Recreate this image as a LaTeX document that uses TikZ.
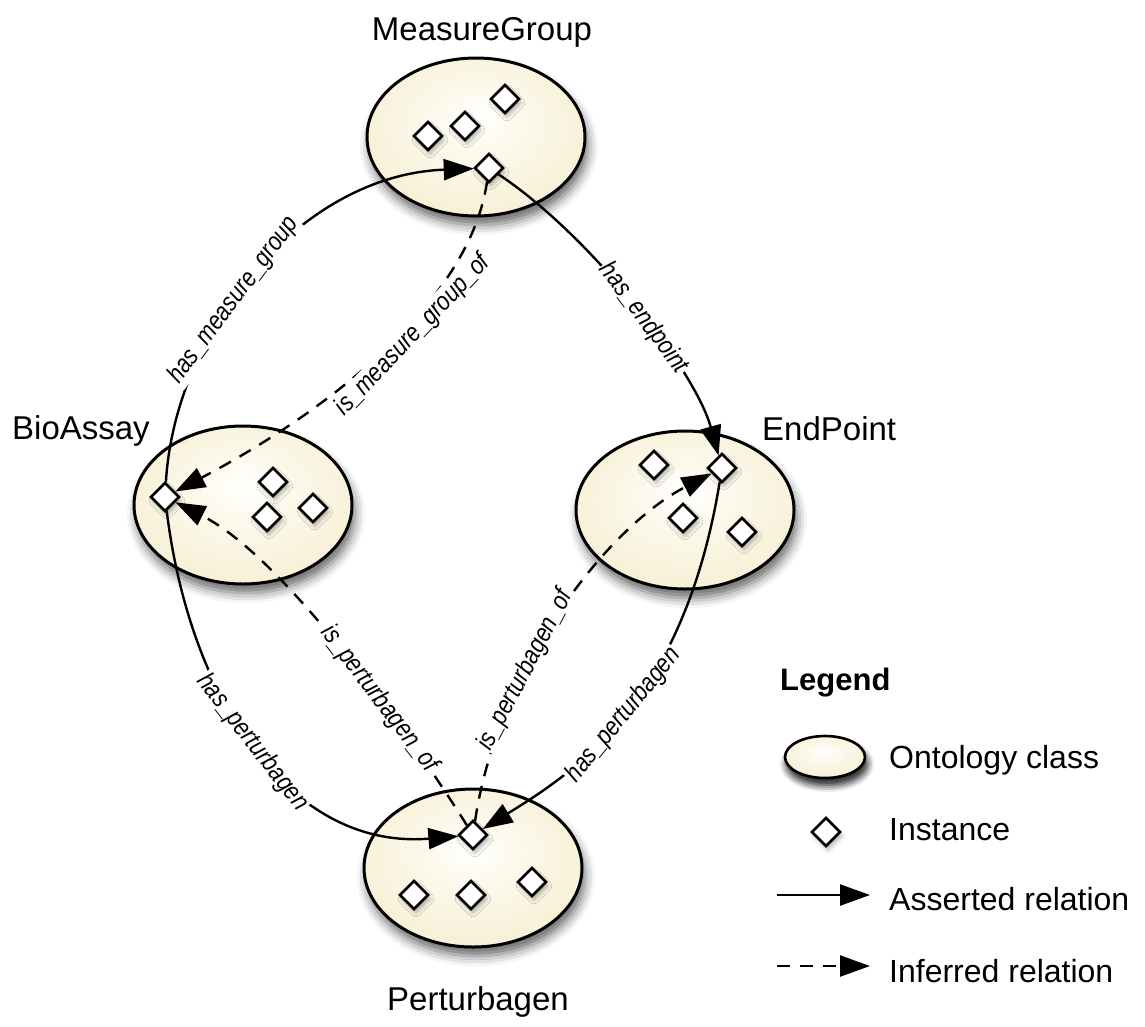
\documentclass[tikz,border=0pt]{standalone}
\usepackage{fontspec}
\setmainfont{Liberation Sans}
\newfontfamily\relfont[FakeStretch=0.84]{Liberation Sans}
\usetikzlibrary{arrows.meta,shapes.geometric,shadows.blur}

\definecolor{classedge}{RGB}{244,233,197}
\definecolor{classmid}{RGB}{252,249,236}
\pgfdeclareradialshading{classfill}{\pgfpoint{0bp}{6bp}}{%
  color(0bp)=(white); color(10bp)=(classmid); color(42bp)=(classedge); color(50bp)=(classedge)}

\tikzset{
  classnode/.style={ellipse, draw=black, line width=3pt, shading=classfill,
    minimum width=218pt, minimum height=158pt, inner sep=0pt,
    blur shadow={shadow xshift=3pt, shadow yshift=-9pt, shadow blur radius=10pt, shadow opacity=60}},
  inst/.style={diamond, draw=black, line width=2.6pt, fill=white,
    minimum width=29pt, minimum height=29pt, inner sep=0pt,
    blur shadow={shadow xshift=2pt, shadow yshift=-4pt, shadow blur radius=4pt, shadow opacity=30}},
  classlabel/.style={font=\fontsize{33}{40}\selectfont, inner sep=0pt},
  legendtext/.style={font=\fontsize{32}{38}\selectfont, inner sep=0pt, anchor=base west},
  rel/.style={line width=2.4pt, -{Triangle[length=30pt,width=21pt]}},
  inferred/.style={rel, dash pattern=on 13pt off 10pt},
  rellabel/.style={font=\relfont\itshape\fontsize{26}{30}\selectfont, fill=white, inner sep=1.5pt, sloped}
}

\begin{document}
\begin{tikzpicture}[x=1pt,y=1pt]
\useasboundingbox (0,0) rectangle (1145,-1026);

% ontology classes
\node[classnode] (mg) at (476,-137) {};
\node[classnode] (ba) at (243,-505) {};
\node[classnode] (ep) at (685,-510) {};
\node[classnode] (pb) at (473,-868) {};

% class names
\node[classlabel, anchor=base] (tmg) at (482,-40) {MeasureGroup};
\node[classlabel, anchor=base west] (tba) at (12,-439) {BioAssay};
\node[classlabel, anchor=base west] (tep) at (762,-440) {EndPoint};
\node[classlabel, anchor=base] (tpb) at (478,-1010) {Perturbagen};

% instances
\node[inst] (m1) at (428,-136) {};
\node[inst] (m2) at (465,-126) {};
\node[inst] (m3) at (505,-99) {};
\node[inst] (m4) at (489,-168) {};

\node[inst] (b1) at (165,-497) {};
\node[inst] (b2) at (273,-482) {};
\node[inst] (b3) at (267,-517) {};
\node[inst] (b4) at (313,-508) {};

\node[inst] (e1) at (654,-465) {};
\node[inst] (e2) at (722,-468) {};
\node[inst] (e3) at (683,-518) {};
\node[inst] (e4) at (742,-532) {};

\node[inst] (p1) at (473,-835) {};
\node[inst] (p2) at (414,-895) {};
\node[inst] (p3) at (471,-895) {};
\node[inst] (p4) at (532,-882) {};

% asserted relations
\draw[rel] (b1) .. controls (175,-330) and (300,-175) .. (m4)
  node[rellabel, pos=0.42] {has\_measure\_group};
\draw[rel] (m4) .. controls (590,-235) and (695,-370) .. (e2)
  node[rellabel, pos=0.54] {has\_endpoint};
\draw[rel] (b1) .. controls (190,-700) and (290,-850) .. (p1)
  node[rellabel, pos=0.48] {has\_perturbagen};
\draw[rel] (e2) .. controls (684,-700) and (578,-770) .. (p1)
  node[rellabel, pos=0.5] {has\_perturbagen};

% inferred relations
\draw[inferred] (m4) .. controls (470,-300) and (330,-410) .. (b1)
  node[rellabel, pos=0.43, anchor=north, outer sep=-3pt] {is\_measure\_group\_of};
\draw[inferred] (p1) .. controls (414,-741) and (286,-558) .. (b1)
  node[rellabel, pos=0.38] {is\_perturbagen\_of};
\draw[inferred] (p1) .. controls (497,-672) and (604,-529) .. (e2)
  node[rellabel, pos=0.35] {is\_perturbagen\_of};

% legend
\node[font=\bfseries\fontsize{31}{37}\selectfont, inner sep=0pt, anchor=base west] (tlg) at (780,-690) {Legend};
\node[classnode, minimum width=80pt, minimum height=42pt, line width=2.6pt,
  blur shadow={shadow xshift=2pt, shadow yshift=-7pt, shadow blur radius=7pt, shadow opacity=60}] (lgclass) at (825,-757) {};
\node[legendtext] (tlgclass) at (889,-768) {Ontology class};
\node[inst] (lginst) at (826,-832) {};
\node[legendtext] (tlginst) at (889,-840) {Instance};
\coordinate (la1) at (777,-895);
\coordinate (la2) at (870,-895);
\draw[rel] (la1) -- (la2);
\node[legendtext] (tlgrel) at (889,-910) {Asserted relation};
\coordinate (li1) at (777,-966);
\coordinate (li2) at (870,-966);
\draw[inferred] (li1) -- (li2);
\node[legendtext] (tlginf) at (889,-982) {Inferred relation};
\end{tikzpicture}
\end{document}
